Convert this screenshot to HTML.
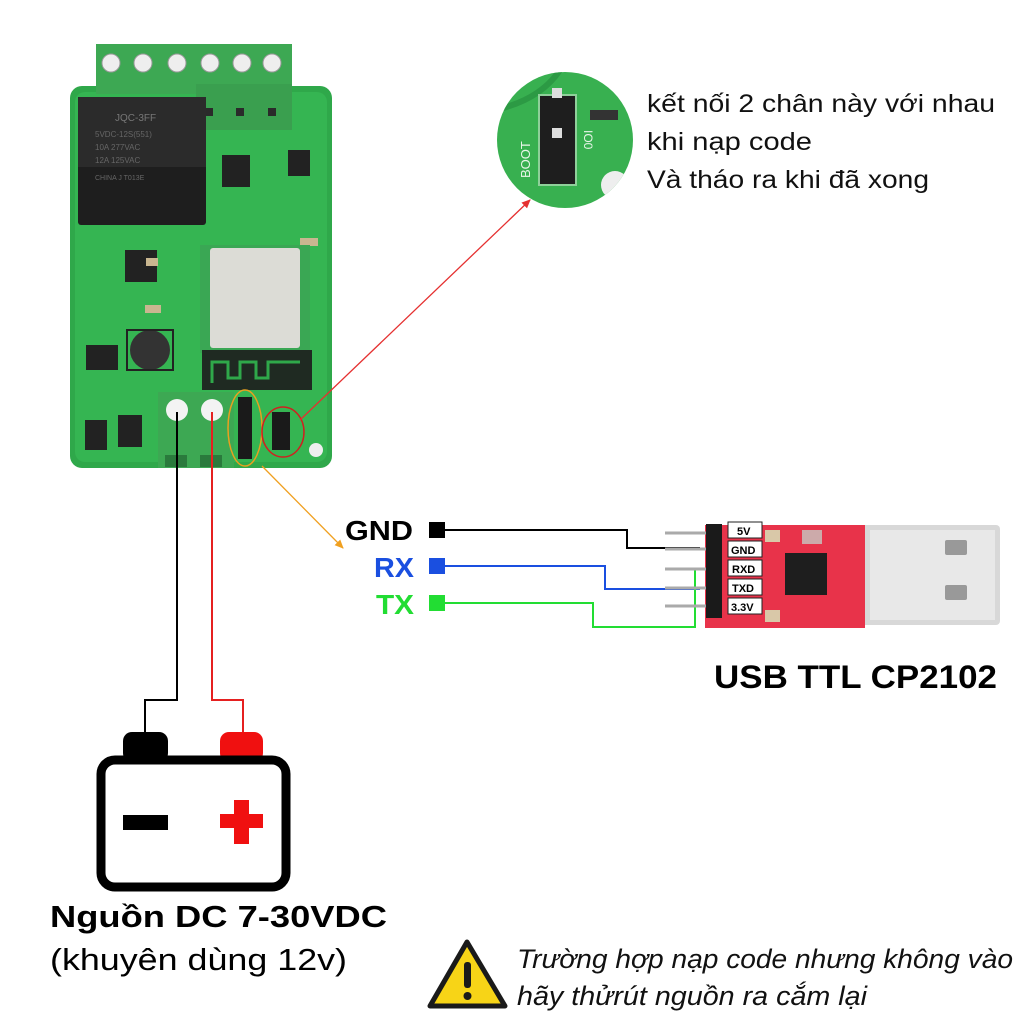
<!DOCTYPE html>
<html><head><meta charset="utf-8"><style>
html,body{margin:0;padding:0;background:#fff;}
svg{display:block;}
text{font-family:"Liberation Sans",sans-serif;}
</style></head><body>
<svg width="1024" height="1024" viewBox="0 0 1024 1024" xmlns="http://www.w3.org/2000/svg">
<defs>
<marker id="ar" markerWidth="10" markerHeight="10" refX="8" refY="5" orient="auto" markerUnits="userSpaceOnUse"><path d="M0,1 L9,5 L0,9 z" fill="#e53030"/></marker>
<marker id="ao" markerWidth="10" markerHeight="10" refX="8" refY="5" orient="auto" markerUnits="userSpaceOnUse"><path d="M0,1 L9,5 L0,9 z" fill="#f0a020"/></marker>
<clipPath id="cc"><circle cx="565" cy="140" r="68"/></clipPath>
</defs>

<!-- PCB -->
<rect x="70" y="86" width="262" height="382" rx="12" fill="#2fa84a"/>
<rect x="75" y="92" width="252" height="370" rx="10" fill="#35b552"/>
<!-- top terminal block -->
<rect x="96" y="44" width="196" height="50" fill="#3da853"/>
<rect x="196" y="84" width="96" height="46" fill="#3a9f4f"/>
<g fill="#eee" stroke="#999">
<circle cx="111" cy="63" r="9"/><circle cx="143" cy="63" r="9"/><circle cx="177" cy="63" r="9"/><circle cx="210" cy="63" r="9"/><circle cx="242" cy="63" r="9"/><circle cx="272" cy="63" r="9"/>
</g>
<g fill="#2a2a2a"><rect x="205" y="108" width="8" height="8"/><rect x="236" y="108" width="8" height="8"/><rect x="268" y="108" width="8" height="8"/></g>
<!-- relay -->
<rect x="78" y="97" width="128" height="128" rx="3" fill="#1e1e1e"/>
<rect x="78" y="97" width="128" height="70" fill="#2b2b2b"/>
<text x="115" y="121" font-size="10" fill="#777">JQC-3FF</text>
<text x="95" y="137" font-size="8" fill="#666">5VDC-12S(551)</text>
<text x="95" y="150" font-size="8" fill="#666">10A 277VAC</text>
<text x="95" y="163" font-size="8" fill="#666">12A 125VAC</text>
<text x="95" y="180" font-size="7" fill="#666">CHINA  J   T013E</text>
<!-- small chips -->
<rect x="222" y="155" width="28" height="32" fill="#222"/>
<rect x="288" y="150" width="22" height="26" fill="#222"/>
<rect x="125" y="250" width="32" height="32" fill="#222"/>
<rect x="86" y="345" width="32" height="25" fill="#222"/>
<circle cx="150" cy="350" r="20" fill="#333"/>
<rect x="127" y="330" width="46" height="40" fill="none" stroke="#222" stroke-width="2"/>
<rect x="85" y="420" width="22" height="30" fill="#222"/>
<rect x="118" y="415" width="24" height="32" fill="#222"/>
<rect x="146" y="258" width="12" height="8" fill="#c9b690"/>
<rect x="145" y="305" width="16" height="8" fill="#c9b690"/>
<rect x="300" y="238" width="18" height="8" fill="#c9b690"/>
<!-- ESP module -->
<rect x="200" y="245" width="110" height="108" fill="#3aa754"/>
<rect x="210" y="248" width="90" height="100" rx="3" fill="#dcdcd6"/>
<rect x="202" y="350" width="110" height="40" fill="#1f2a22"/>
<path d="M212,383 V362 H228 V378 H240 V362 H256 V378 H268 V362 H300" fill="none" stroke="#2fa84a" stroke-width="3"/>
<!-- bottom terminal -->
<rect x="158" y="392" width="76" height="76" fill="#3da853"/>
<circle cx="177" cy="410" r="11" fill="#f3f3f3"/><circle cx="212" cy="410" r="11" fill="#f3f3f3"/>
<rect x="165" y="455" width="22" height="12" fill="#2a7a3c"/><rect x="200" y="455" width="22" height="12" fill="#2a7a3c"/>
<!-- jumpers -->
<rect x="238" y="397" width="14" height="62" fill="#1a1a1a"/>
<rect x="272" y="412" width="18" height="38" fill="#1a1a1a"/>
<circle cx="316" cy="450" r="7" fill="#eee"/>
<ellipse cx="245" cy="428" rx="17" ry="38" fill="none" stroke="#e8a020" stroke-width="1.5"/>
<ellipse cx="283" cy="432" rx="21" ry="25" fill="none" stroke="#d02020" stroke-width="1.5"/>

<!-- arrows -->
<line x1="300" y1="420" x2="530" y2="200" stroke="#e53030" stroke-width="1.3" marker-end="url(#ar)"/>
<line x1="262" y1="466" x2="343" y2="548" stroke="#f0a020" stroke-width="1.3" marker-end="url(#ao)"/>

<!-- inset circle -->
<g clip-path="url(#cc)">
<rect x="495" y="70" width="140" height="140" fill="#38b050"/>
<path d="M495,110 Q540,100 560,70" stroke="#2c9a44" stroke-width="6" fill="none"/>
<rect x="539" y="95" width="37" height="90" fill="#1e1e1e" stroke="#8fd09a" stroke-width="2"/>
<rect x="552" y="88" width="10" height="10" fill="#ddd"/>
<rect x="552" y="128" width="10" height="10" fill="#ddd"/>
<rect x="590" y="110" width="28" height="10" fill="#333"/>
<circle cx="615" cy="185" r="14" fill="#eee"/>
<text x="530" y="178" font-size="13" fill="#e8f5e8" transform="rotate(-90 530 178)">BOOT</text>
<text x="584" y="130" font-size="12" fill="#e8f5e8" transform="rotate(90 584 130)">IO0</text>
</g>
<text x="647" y="112" font-size="25" fill="#111" textLength="348" lengthAdjust="spacingAndGlyphs">kết nối 2 chân này với nhau</text>
<text x="647" y="150" font-size="25" fill="#111" textLength="165" lengthAdjust="spacingAndGlyphs">khi nạp code</text>
<text x="647" y="188" font-size="25" fill="#111" textLength="282" lengthAdjust="spacingAndGlyphs">Và tháo ra khi đã xong</text>

<!-- labels -->
<text x="345" y="540" font-size="28" font-weight="bold" fill="#000" textLength="68" lengthAdjust="spacingAndGlyphs">GND</text>
<text x="374" y="577" font-size="28" font-weight="bold" fill="#1a4fe0" textLength="40" lengthAdjust="spacingAndGlyphs">RX</text>
<text x="376" y="614" font-size="28" font-weight="bold" fill="#22dd33" textLength="38" lengthAdjust="spacingAndGlyphs">TX</text>
<rect x="429" y="522" width="16" height="16" fill="#000"/>
<rect x="429" y="558" width="16" height="16" fill="#1a4fe0"/>
<rect x="429" y="595" width="16" height="16" fill="#22dd33"/>
<polyline points="445,530 627,530 627,548 700,548" fill="none" stroke="#000" stroke-width="2"/>
<polyline points="445,566 605,566 605,589 700,589" fill="none" stroke="#1a4fe0" stroke-width="2"/>
<polyline points="445,603 593,603 593,627 695,627 695,569 666,569" fill="none" stroke="#22dd33" stroke-width="2"/>

<!-- USB module -->
<rect x="855" y="525" width="145" height="100" rx="4" fill="#d8d8d8"/>
<rect x="870" y="530" width="125" height="90" fill="#e8e8e8"/>
<rect x="945" y="540" width="22" height="15" rx="2" fill="#999"/>
<rect x="945" y="585" width="22" height="15" rx="2" fill="#999"/>
<rect x="705" y="525" width="160" height="103" fill="#e8334a"/>
<rect x="785" y="553" width="42" height="42" fill="#1e1e1e"/>
<rect x="802" y="530" width="20" height="14" fill="#caa"/>
<rect x="765" y="530" width="15" height="12" fill="#d9c8a8"/>
<rect x="765" y="610" width="15" height="12" fill="#d9c8a8"/>
<g stroke="#aaa" stroke-width="3">
<line x1="665" y1="533" x2="712" y2="533"/><line x1="665" y1="549" x2="712" y2="549"/><line x1="665" y1="569" x2="712" y2="569"/><line x1="665" y1="588" x2="712" y2="588"/><line x1="665" y1="606" x2="712" y2="606"/>
</g>
<rect x="706" y="524" width="16" height="94" fill="#1a1a1a"/>
<g fill="#fff" stroke="#222" stroke-width="1">
<rect x="728" y="522" width="34" height="16"/><rect x="728" y="541" width="34" height="16"/><rect x="728" y="560" width="34" height="16"/><rect x="728" y="579" width="34" height="16"/><rect x="728" y="598" width="34" height="16"/>
</g>
<g font-size="11" font-weight="bold" fill="#000">
<text x="737" y="535">5V</text><text x="731" y="554">GND</text><text x="732" y="573">RXD</text><text x="732" y="592">TXD</text><text x="731" y="611">3.3V</text>
</g>
<text x="714" y="688" font-size="32" font-weight="bold" fill="#000" textLength="283" lengthAdjust="spacingAndGlyphs">USB TTL CP2102</text>

<!-- power wires -->
<polyline points="177,412 177,700 145,700 145,738" fill="none" stroke="#000" stroke-width="2"/>
<polyline points="212,412 212,700 243,700 243,735" fill="none" stroke="#e52020" stroke-width="2"/>
<!-- battery -->
<rect x="123" y="732" width="45" height="30" rx="9" fill="#000"/>
<rect x="220" y="732" width="43" height="30" rx="9" fill="#f01010"/>
<rect x="101" y="760" width="185" height="127" rx="14" fill="#fff" stroke="#000" stroke-width="9"/>
<rect x="123" y="815" width="45" height="15" fill="#000"/>
<rect x="220" y="814" width="43" height="14" fill="#f01010"/>
<rect x="234" y="800" width="15" height="44" fill="#f01010"/>
<text x="50" y="927" font-size="31" font-weight="bold" fill="#000" textLength="337" lengthAdjust="spacingAndGlyphs">Nguồn DC 7-30VDC</text>
<text x="50" y="970" font-size="31" fill="#000" textLength="297" lengthAdjust="spacingAndGlyphs">(khuyên dùng 12v)</text>

<!-- warning -->
<path d="M467,942 L505,1006 L430,1006 Z" fill="#f7d417" stroke="#1a1a1a" stroke-width="5" stroke-linejoin="round"/>
<rect x="464" y="962" width="7" height="26" rx="3" fill="#1a1a1a"/>
<circle cx="467.5" cy="996" r="4" fill="#1a1a1a"/>
<text x="517" y="968" font-size="27" font-style="italic" fill="#111" textLength="496" lengthAdjust="spacingAndGlyphs">Trường hợp nạp code nhưng không vào</text>
<text x="517" y="1005" font-size="27" font-style="italic" fill="#111" textLength="350" lengthAdjust="spacingAndGlyphs">hãy thửrút nguồn ra cắm lại</text>
</svg>
</body></html>
